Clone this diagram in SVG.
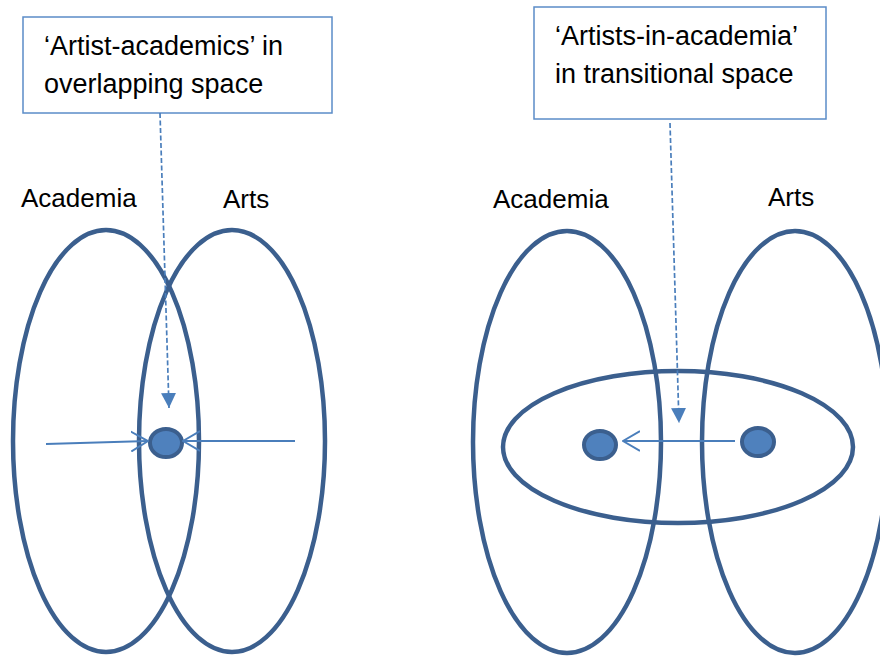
<svg xmlns="http://www.w3.org/2000/svg" width="880" height="658" viewBox="0 0 880 658">
<defs>
<style>
.set{fill:none;stroke:#3B5F8E;stroke-width:4.5}
.dot{fill:#4F81BD;stroke:#3B5F8E;stroke-width:4}
.box{fill:#fff;stroke:#5B8CC8;stroke-width:1.5}
.lbl{font-family:"Liberation Sans",Arial,sans-serif;font-size:26px;fill:#000}
.big{font-size:27px}
.arr{fill:none;stroke:#4A7EBB;stroke-width:2}
.dash{fill:none;stroke:#4A7EBB;stroke-width:1.7;stroke-dasharray:5 2.5}
</style>
<marker id="tri" viewBox="0 0 10 10" refX="10" refY="5" markerWidth="15" markerHeight="15" markerUnits="userSpaceOnUse" orient="auto">
<path d="M0,0 L10,5 L0,10 Z" fill="#4A7EBB"/>
</marker>
<marker id="vee" viewBox="0 0 18 22" refX="17" refY="11" markerWidth="18" markerHeight="22" markerUnits="userSpaceOnUse" orient="auto">
<path d="M0,1 L17,11 L0,21" fill="none" stroke="#4A7EBB" stroke-width="2"/>
</marker>
</defs>
<rect width="880" height="658" fill="#fff"/>

<g id="left-academia"><ellipse class="set" cx="106" cy="441" rx="93" ry="211"/><text class="lbl" x="21" y="207">Academia</text></g>
<g id="left-arts"><ellipse class="set" cx="232" cy="441" rx="93" ry="211"/><text class="lbl" x="223" y="208">Arts</text></g>
<g id="left-box"><rect class="box" x="23" y="17" width="309" height="96"/><text class="lbl big" x="44" y="55">‘Artist-academics’ in</text><text class="lbl big" x="44" y="93">overlapping space</text></g>
<g id="left-dot"><ellipse class="dot" cx="166" cy="443" rx="16" ry="14"/></g>

<g id="right-academia"><ellipse class="set" cx="567" cy="442" rx="94" ry="211"/><text class="lbl" x="493" y="208">Academia</text></g>
<g id="right-arts"><ellipse class="set" cx="795" cy="442" rx="93" ry="211"/><text class="lbl" x="768" y="206">Arts</text></g>
<g id="transitional"><ellipse class="set" cx="678" cy="447" rx="175" ry="76"/></g>
<g id="right-box"><rect class="box" x="534" y="7" width="292" height="112"/><text class="lbl big" x="555" y="45">‘Artists-in-academia’</text><text class="lbl big" x="555" y="83">in transitional space</text></g>
<g id="dot-academia"><ellipse class="dot" cx="600" cy="445" rx="16" ry="14"/></g>
<g id="dot-arts"><ellipse class="dot" cx="758" cy="442" rx="16" ry="14"/></g>

<g id="connectors">
<line class="dash" x1="160" y1="113" x2="169" y2="408" marker-end="url(#tri)"/>
<line class="arr" x1="46" y1="444" x2="148" y2="441" marker-end="url(#vee)"/>
<line class="arr" x1="295" y1="441" x2="183" y2="441" marker-end="url(#vee)"/>
<line class="dash" x1="670" y1="123" x2="679" y2="423" marker-end="url(#tri)"/>
<line class="arr" x1="735" y1="441" x2="623" y2="441" marker-end="url(#vee)"/>
</g>
</svg>
